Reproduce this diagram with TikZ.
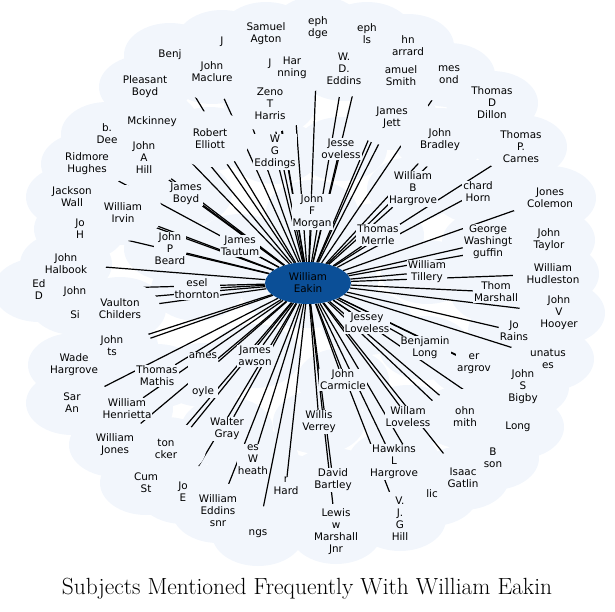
\documentclass[tikz,border=0pt]{standalone}
\usepackage{fontspec}
\newfontfamily\subjfont{DejaVu Sans}
\usetikzlibrary{shapes.geometric}
\definecolor{cloudbg}{HTML}{F2F6FC}
\definecolor{hubblue}{HTML}{0B4F97}
\pgfdeclarelayer{cloud}
\pgfdeclarelayer{links}
\pgfdeclarelayer{cover}
\pgfsetlayers{cloud,links,cover,main}
\tikzset{
  subject/.style={align=center,font=\subjfont\fontsize{10.4}{12}\selectfont,fill=cloudbg,inner sep=1pt},
  hub/.style={ellipse,fill=hubblue,minimum width=86pt,minimum height=42pt,inner sep=0pt,align=center,font=\subjfont\fontsize{10.4}{12}\selectfont},
  link/.style={line width=1.2pt},
  halo/.style={fill=cloudbg},
}
\def\subjects{agton,jfrag,eph1,eph2,sarrard,wdeddins,ssmith,jlond,tdillon,tcarnes,jjett,jbradley,jloveless,benj,jmaclure,pboyd,jfrag2,hjenning,zharris,mckinney,bdee,relliott,wgeddings,jahill,rhughes,jwalls,wirvin,jboyd,joh,jpbeard,jhalbook,edd,jsi,lthornton,jtautum,vchilders,jts,whargrove,jboyle,tmathis,jlawson,sar,whenrietta,wjones,tcker,wgray,cumst,joe,weddins,wheath,rhard,ngs,wverrey,dbartley,lmarshall,hhargrove,vjghill,wloveless,jsmith,igatlin,lic,bson,long,jsbigby,unatus,erhargrove,blong,jesloveless,jcarmicle,jorains,jvhooyer,tmarshall,whudleston,jtaylor,gwguffin,jcolemon,chorn,wbhargrove,tmerrle,wtillery,jfmorgan}
% subjects far out, whose halo hides the end of the link
\def\farsubjects{agton,jfrag,eph1,eph2,sarrard,wdeddins,ssmith,jlond,tdillon,tcarnes,jjett,jbradley,benj,jmaclure,pboyd,jfrag2,hjenning,zharris,mckinney,bdee,relliott,jahill,rhughes,jwalls,wirvin,joh,jhalbook,edd,jsi,vchilders,jts,whargrove,sar,wjones,tcker,cumst,joe,weddins,ngs,lmarshall,vjghill,jsmith,igatlin,lic,bson,long,jsbigby,unatus,jvhooyer,whudleston,jtaylor,jcolemon}
\begin{document}
\begin{tikzpicture}[x=1pt,y=-1pt]
\useasboundingbox (0,0) rectangle (615,611);
%hub
\node[hub] (c) at (308,283) {William\\Eakin};
%top
\node[subject] (agton) at (266,34) {Samuel\\Agton};
\node[subject] (jfrag) at (222,42) {J};
\node[subject] (eph1) at (318,28) {eph\\dge};
\node[subject] (eph2) at (367,34) {eph\\ls};
\node[subject] (sarrard) at (408,46) {hn\\arrard};
\node[subject] (wdeddins) at (344,69) {W.\\D.\\Eddins};
\node[subject] (ssmith) at (401,76) {amuel\\Smith};
\node[subject] (jlond) at (449,75) {mes\\ond};
\node[subject] (tdillon) at (492,103) {Thomas\\D\\Dillon};
\node[subject] (tcarnes) at (521,147) {Thomas\\P.\\Carnes};
\node[subject] (jjett) at (392,118) {James\\Jett};
\node[subject] (jbradley) at (440,140) {John\\Bradley};
\node[subject] (jloveless) at (341,149) {Jesse\\oveless};
\node[subject] (benj) at (170,55) {Benj};
\node[subject] (jmaclure) at (212,72) {John\\Maclure};
\node[subject] (pboyd) at (145,87) {Pleasant\\Boyd};
\node[subject] (jfrag2) at (270,64) {J};
\node[subject] (hjenning) at (292,68) {Har\\nning};
\node[subject] (zharris) at (270,104) {Zeno\\T\\Harris};
\node[subject] (mckinney) at (152,122) {Mckinney};
\node[subject] (bdee) at (107,134) {b.\\Dee};
\node[subject] (relliott) at (210,139) {Robert\\Elliott};
\node[subject] (wgeddings) at (275,152) {W\\G\\Eddings};
%left
\node[subject] (jahill) at (144,158) {John\\A\\Hill};
\node[subject] (rhughes) at (87,164) {Ridmore\\Hughes};
\node[subject] (jwalls) at (72,197) {Jackson\\Wall};
\node[subject] (wirvin) at (123,213) {William\\Irvin};
\node[subject] (jboyd) at (186,194) {James\\Boyd};
\node[subject] (joh) at (80,229) {Jo\\H};
\node[subject] (jpbeard) at (170,249) {John\\P\\Beard};
\node[subject] (jhalbook) at (66,264) {John\\Halbook};
\node[subject] (edd) at (39,290) {Ed\\D};
\node[subject] (jsi) at (75,303) {John\\ \\Si};
\node[subject] (lthornton) at (197,289) {esel\\thornton};
\node[subject] (jtautum) at (240,246) {James\\Tautum};
\node[subject] (vchilders) at (120,309) {Vaulton\\Childers};
\node[subject] (jts) at (112,346) {John\\ts};
\node[subject] (whargrove) at (74,365) {Wade\\Hargrove};
\node[subject] (jboyle) at (203,375) {ames\\ \\ \\oyle};
\node[subject] (tmathis) at (157,376) {Thomas\\Mathis};
\node[subject] (jlawson) at (255,356) {James\\awson};
\node[subject] (sar) at (72,403) {Sar\\An};
\node[subject] (whenrietta) at (127,409) {William\\Henrietta};
%bottom
\node[subject] (wjones) at (115,445) {William\\Jones};
\node[subject] (tcker) at (166,449) {ton\\cker};
\node[subject] (wgray) at (227,429) {Walter\\Gray};
\node[subject] (cumst) at (146,483) {Cum\\St};
\node[subject] (joe) at (183,492) {Jo\\E};
\node[subject] (weddins) at (218,511) {William\\Eddins\\snr};
\node[subject] (wheath) at (253,460) {es\\W\\heath};
\node[subject] (rhard) at (286,486) {r\\Hard};
\node[subject] (ngs) at (258,534) {ngs};
\node[subject] (wverrey) at (319,422) {Willis\\Verrey};
\node[subject] (dbartley) at (333,480) {David\\Bartley};
\node[subject] (lmarshall) at (336,532) {Lewis\\w\\Marshall\\Jnr};
\node[subject] (hhargrove) at (394,462) {Hawkins\\L\\Hargrove};
\node[subject] (vjghill) at (400,519) {V.\\J.\\G\\Hill};
\node[subject] (wloveless) at (408,417) {Willam\\Loveless};
\node[subject] (jsmith) at (465,417) {ohn\\mith};
\node[subject] (igatlin) at (463,478) {Isaac\\Gatlin};
\node[subject] (lic) at (432,494) {lic};
\node[subject] (bson) at (493,458) {B\\son};
%right
\node[subject] (long) at (518,427) {Long};
\node[subject] (jsbigby) at (523,387) {John\\S\\Bigby};
\node[subject] (unatus) at (548,359) {unatus\\es};
\node[subject] (erhargrove) at (474,364) {er\\argrov};
\node[subject] (blong) at (425,348) {Benjamin\\Long};
\node[subject] (jesloveless) at (367,323) {Jessey\\Loveless};
\node[subject] (jcarmicle) at (343,380) {John\\Carmicle};
\node[subject] (jorains) at (514,331) {Jo\\Rains};
\node[subject] (jvhooyer) at (559,313) {John\\V\\Hooyer};
\node[subject] (tmarshall) at (496,292) {Thom\\Marshall};
\node[subject] (whudleston) at (553,274) {William\\Hudleston};
\node[subject] (jtaylor) at (549,240) {John\\Taylor};
\node[subject] (gwguffin) at (488,242) {George\\Washingt\\guffin};
\node[subject] (jcolemon) at (550,198) {Jones\\Colemon};
\node[subject] (chorn) at (478,192) {chard\\Horn};
\node[subject] (wbhargrove) at (413,189) {William\\B\\Hargrove};
\node[subject] (tmerrle) at (378,235) {Thomas\\Merrle};
\node[subject] (wtillery) at (427,272) {William\\Tillery};
\node[subject] (jfmorgan) at (312,212) {John\\F\\Morgan};
%title
\node[font=\fontsize{23.4}{26}\selectfont] (title) at (307,589) {Subjects Mentioned Frequently With William Eakin};
%cloud and links
\begin{pgfonlayer}{cloud}
\fill[halo] (c) ellipse [x radius=70pt, y radius=45pt];
\foreach \n in \subjects {\fill[halo] (\n) ellipse [x radius=46pt, y radius=32pt];}
\end{pgfonlayer}
\begin{pgfonlayer}{links}
\foreach \n in \subjects {\draw[link] (c) -- (\n);}
\end{pgfonlayer}
\begin{pgfonlayer}{cover}
\foreach \n in \farsubjects {\fill[halo] (\n) ellipse [x radius=40pt, y radius=28pt];}
\end{pgfonlayer}
\end{tikzpicture}
\end{document}
